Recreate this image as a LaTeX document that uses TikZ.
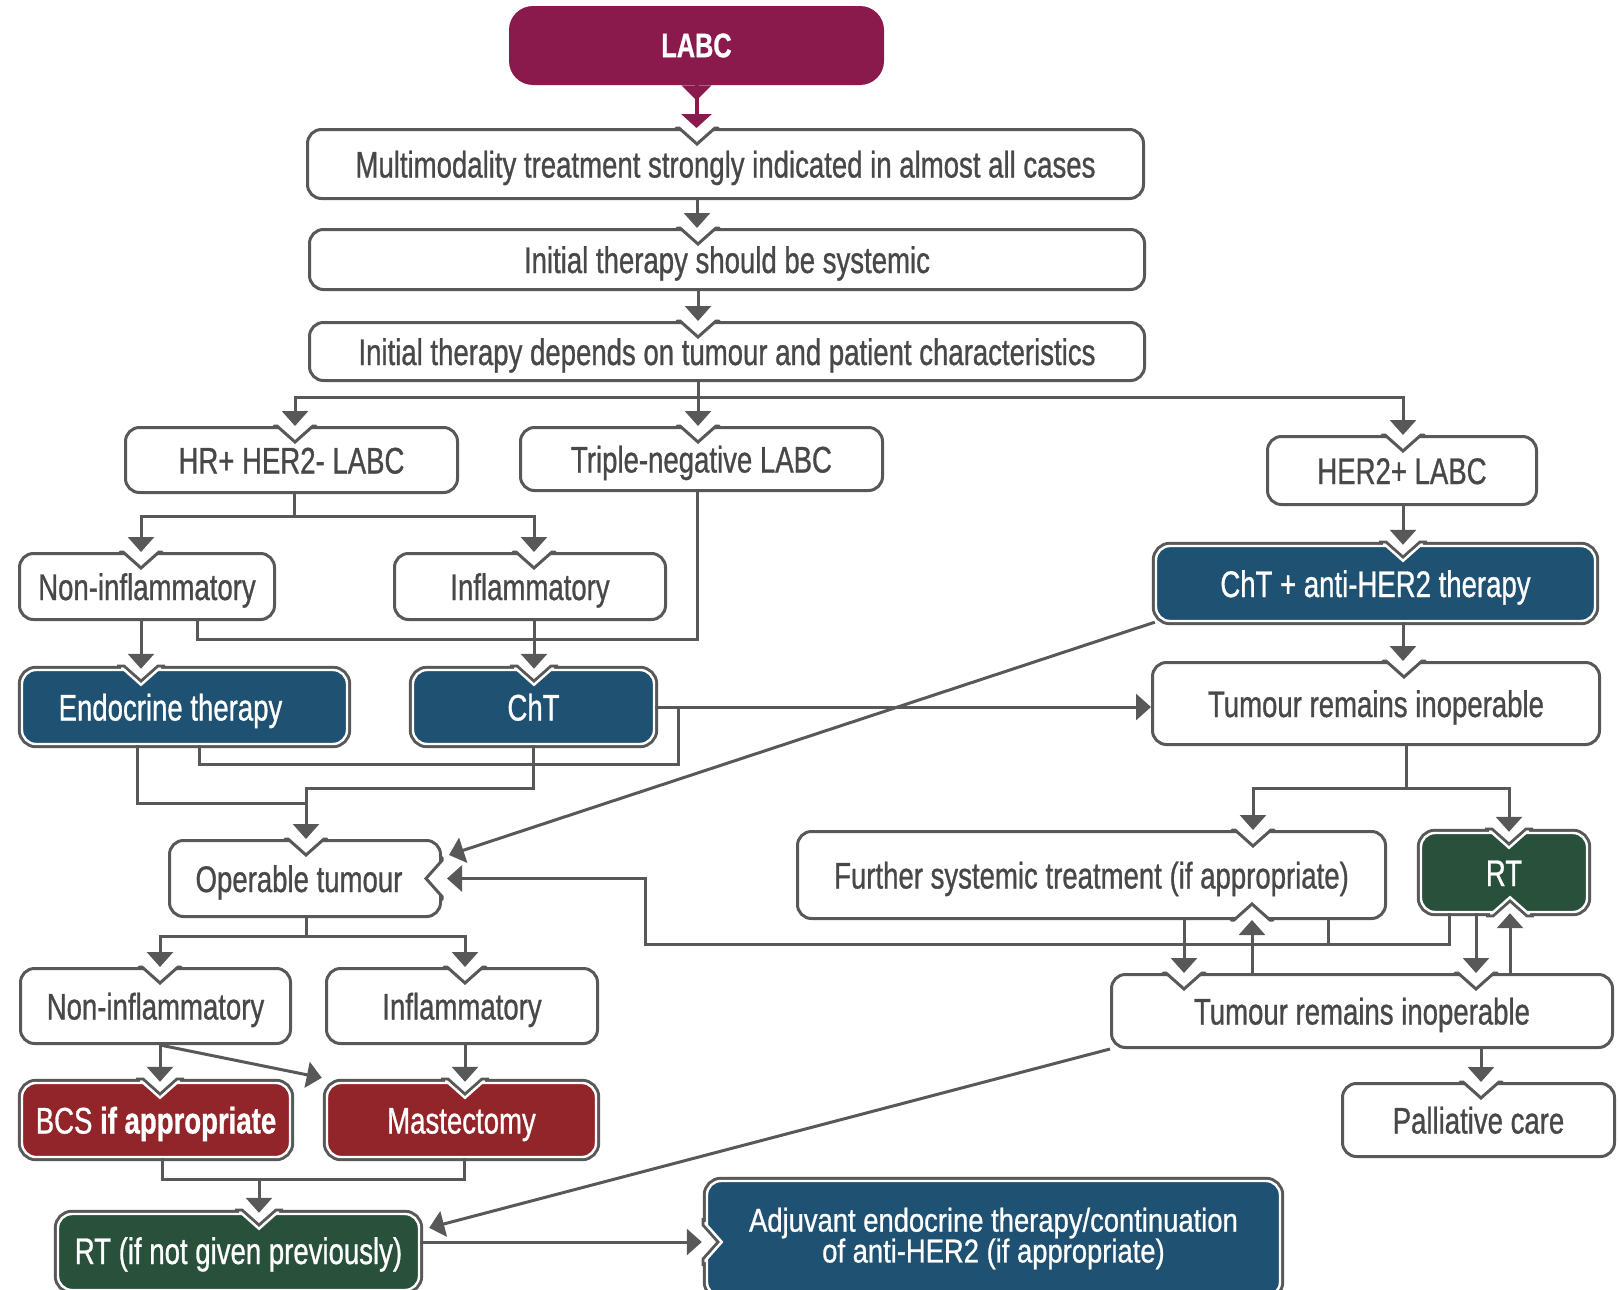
\documentclass[tikz,border=0pt]{standalone}
\usepackage{fontspec}
\usepackage{tikz}
\usetikzlibrary{arrows.meta}
\newfontfamily\boxfont{Liberation Sans}[FakeStretch=0.745, FakeBold=0.8]
\newfontfamily\adjfont{Liberation Sans}[FakeStretch=0.83, FakeBold=0.8]
\newcommand{\boxsize}{\fontsize{18.5}{16}\selectfont\lineskiplimit=-20pt}
\definecolor{linegray}{RGB}{88,88,88}
\definecolor{textgray}{RGB}{72,72,72}
\definecolor{labcred}{RGB}{138,26,75}
\definecolor{therblue}{RGB}{31,82,114}
\definecolor{rtgreen}{RGB}{40,80,58}
\definecolor{surgred}{RGB}{146,37,41}
\tikzstyle{box} = [draw=linegray, line width=1.5pt, rounded corners=7pt, fill=white, text=textgray, font={\boxfont\boxsize}, inner sep=0pt, align=center, text height=13.5pt, text depth=0pt]
\tikzstyle{filled} = [preaction={draw=linegray, line width=4.2pt}, draw=white, line width=1.2pt, rounded corners=7pt, text=white, font={\boxfont\boxsize}, inner sep=0pt, align=center, text height=13.5pt, text depth=0pt]
\tikzstyle{line} = [draw, linegray, line width=1.5pt, -{Triangle[width=13pt,length=7.5pt]}]
\tikzstyle{link} = [draw, linegray, line width=1.5pt]
\tikzset{dims/.style 2 args={minimum width=#1*0.5pt, minimum height=#2*0.5pt}}
% notch in a white box / in a filled box
\newcommand{\notchw}[2]{%
  \begin{scope}[shift={(#1)}, rotate=#2]
    \fill[white] (-21,2.5) -- (21,2.5) -- (0,-16) -- cycle;
    \draw[linegray, line width=1.5pt, line cap=round] (-21,0) -- (-18,0) -- (0,-16) -- (18,0) -- (21,0);
  \end{scope}}
\newcommand{\notchf}[2]{%
  \begin{scope}[shift={(#1)}, rotate=#2]
    \fill[white] (-25,6) -- (25,6) -- (0,-16) -- cycle;
    \draw[linegray, line width=1.5pt] (-24,2.7) -- (-17,2.7) -- (0,-12.4) -- (17,2.7) -- (24,2.7);
    \draw[white, line width=1.2pt] (-20,0) -- (-18,0) -- (0,-16) -- (18,0) -- (20,0);
  \end{scope}}

\begin{document}
\begin{tikzpicture}[x=0.5pt,y=0.5pt]
  \useasboundingbox (0,0) rectangle (1619,-1290);
  \clip (0,0) rectangle (1619,-1290);
  % boxes
  \node[fill=labcred, rounded corners=12pt, dims={375}{79}, text=white, font={\boxfont\fontsize{17}{20}\selectfont\bfseries}] (labc) at (696.5,-45.5) {LABC};
  \node[box, dims={836}{69}] (multi) at (725.5,-164) {Multimodality treatment strongly indicated in almost all cases};
  \node[box, dims={835}{60}] (sys) at (727,-259.5) {Initial therapy should be systemic};
  \node[box, dims={835}{58}] (dep) at (727,-351.5) {Initial therapy depends on tumour and patient characteristics};
  \node[box, dims={332}{65}] (hr) at (291.5,-460) {HR+ HER2- LABC};
  \node[box, dims={362}{63}] (tn) at (701.5,-459) {Triple-negative LABC};
  \node[box, dims={269}{68}] (her) at (1402,-470.5) {HER2+ LABC};
  \node[box, dims={255}{66}] (ni1) at (147,-586.5) {Non-inflammatory};
  \node[box, dims={271}{66}] (in1) at (530,-586.5) {Inflammatory};
  \node[filled, fill=therblue, dims={325}{74}] (endo) at (184.5,-707) {Endocrine therapy\hspace{14pt}};
  \node[filled, fill=therblue, dims={241}{74}] (cht) at (533.5,-707) {ChT};
  \node[filled, fill=therblue, dims={439}{75}] (chther) at (1375.5,-583.5) {ChT + anti-HER2 therapy};
  \node[box, dims={447}{82}] (tri1) at (1376,-703.5) {Tumour remains inoperable};
  \node[box, dims={271}{76}] (op) at (305,-878.5) {Operable tumour\hspace{6pt}};
  \node[box, dims={588}{87}] (fst) at (1091.5,-875) {Further systemic treatment (if appropriate)};
  \node[filled, fill=rtgreen, dims={166}{79}] (rt2) at (1504,-872.5) {RT};
  \node[box, dims={501}{73}] (tri2) at (1362,-1011) {Tumour remains inoperable};
  \node[box, dims={272}{73}] (pal) at (1478.5,-1120) {Palliative care};
  \node[box, dims={270}{75}] (ni2) at (155.5,-1006) {Non-inflammatory};
  \node[box, dims={271}{75}] (in2) at (462,-1006) {Inflammatory};
  \node[filled, fill=surgred, dims={268}{74}] (bcs) at (156,-1120) {BCS \textbf{if appropriate}};
  \node[filled, fill=surgred, dims={269}{74}] (mas) at (461.5,-1120) {Mastectomy};
  \node[filled, fill=rtgreen, dims={361}{76}, text depth=1.5pt] (rtp) at (238.5,-1252) {RT (if not given previously)};
  \node[filled, fill=therblue, dims={573}{115}, text height={}, text depth={}, font={\adjfont\fontsize{16.5}{15.4}\selectfont\lineskiplimit=-20pt}] (adj) at (993.5,-1238.5) {Adjuvant endocrine therapy/continuation\\of anti-HER2 (if appropriate)};
  % notches
  \notchw{697,0 |- multi.north}{0}
  \notchw{698,0 |- sys.north}{0}
  \notchw{698,0 |- dep.north}{0}
  \notchw{295,0 |- hr.north}{0}
  \notchw{698,0 |- tn.north}{0}
  \notchw{1403,0 |- her.north}{0}
  \notchw{141,0 |- ni1.north}{0}
  \notchw{534,0 |- in1.north}{0}
  \notchf{141,0 |- endo.north}{0}
  \notchf{534,0 |- cht.north}{0}
  \notchf{1403,0 |- chther.north}{0}
  \notchw{1404,0 |- tri1.north}{0}
  \notchw{306,0 |- op.north}{0}
  \notchw{op.east}{-90}
  \notchw{1253,0 |- fst.north}{0}
  \notchw{1252,0 |- fst.south}{180}
  \notchf{1509,0 |- rt2.north}{0}
  \notchf{1510,0 |- rt2.south}{180}
  \notchw{1184,0 |- tri2.north}{0}
  \notchw{1476,0 |- tri2.north}{0}
  \notchw{1481,0 |- pal.north}{0}
  \notchw{160,0 |- ni2.north}{0}
  \notchw{465,0 |- in2.north}{0}
  \notchf{160,0 |- bcs.north}{0}
  \notchf{465,0 |- mas.north}{0}
  \notchf{259,0 |- rtp.north}{0}
  \notchf{0,-1242 -| adj.west}{90}
  % top chain
  \fill[labcred] ([shift={(-15,0)}]labc.south) -- ([shift={(15,0)}]labc.south) -- ([shift={(0,-15)}]labc.south) -- cycle;
  \draw[draw=labcred, line width=2pt, -{Triangle[width=15pt,length=7pt]}] (labc.south) -- (labc.south |- multi.north);
  \draw[line] (697,0 |- multi.south) -- (697,0 |- sys.north);
  \draw[line] (698,0 |- sys.south) -- (698,0 |- dep.north);
  \draw[link] (698,0 |- dep.south) -- (698,-397);
  \draw[line] (698,-397) -| (295,0 |- hr.north);
  \draw[line] (698,-397) -- (698,0 |- tn.north);
  \draw[line] (698,-397) -| (1403,0 |- her.north);
  % HR+ and triple-negative
  \draw[link] (294,0 |- hr.south) -- (294,-516);
  \draw[line] (294,-516) -| (141,0 |- ni1.north);
  \draw[line] (294,-516) -| (534,0 |- in1.north);
  \draw[line] (141,0 |- ni1.south) -- (141,0 |- endo.north);
  \draw[line] (534,0 |- in1.south) -- (534,0 |- cht.north);
  \draw[link] (697,0 |- tn.south) |- (197,-639) -- (197,0 |- ni1.south);
  \draw[line] (cht.east) -- (cht.east -| tri1.west);
  \draw[link] (199,0 |- endo.south) |- (678,-764) -- (678,0 |- cht.east);
  \draw[link] (137,0 |- endo.south) |- (306,-803);
  \draw[line] (533,0 |- cht.south) |- (306,-788) -- (306,0 |- op.north);
  % HER2+
  \draw[line] (1403,0 |- her.south) -- (1403,0 |- chther.north);
  \draw[line] (1403,0 |- chther.south) -- (1403,0 |- tri1.north);
  \draw[line] (chther.south west) -- ([shift={(7,-16)}]op.north east);
  \draw[link] (1406,0 |- tri1.south) -- (1406,-788);
  \draw[line] (1406,-788) -| (1253,0 |- fst.north);
  \draw[line] (1406,-788) -| (1509,0 |- rt2.north);
  \draw[line] (1184,0 |- fst.south) -- (1184,0 |- tri2.north);
  \draw[line] (1252,0 |- tri2.north) -- (1252,0 |- fst.south);
  \draw[line] (1476,0 |- rt2.south) -- (1476,0 |- tri2.north);
  \draw[line] (1510,0 |- tri2.north) -- (1510,0 |- rt2.south);
  \draw[link] (1328,0 |- fst.south) -- (1328,-944);
  \draw[line] (1449,0 |- rt2.south) |- (645,-944) |- ([shift={(5,0)}]op.east);
  \draw[line] (1481,0 |- tri2.south) -- (1481,0 |- pal.north);
  \draw[line] (tri2.south west) -- ([shift={(9,-15)}]rtp.north east);
  % operable tumour
  \draw[link] (306,0 |- op.south) -- (306,-936);
  \draw[line] (306,-936) -| (160,0 |- ni2.north);
  \draw[line] (306,-936) -| (465,0 |- in2.north);
  \draw[line] (160,0 |- ni2.south) -- (160,0 |- bcs.north);
  \draw[line] (160,0 |- ni2.south) -- ([shift={(-4,4)}]mas.north west);
  \draw[line] (465,0 |- in2.south) -- (465,0 |- mas.north);
  \draw[link] (162,0 |- bcs.south) |- (464,-1179) -- (464,0 |- mas.south);
  \draw[line] (259,-1179) -- (259,0 |- rtp.north);
  \draw[line] (0,-1242 -| rtp.east) -- ([shift={(-4,0)}]0,-1242 -| adj.west);
\end{tikzpicture}
\end{document}
